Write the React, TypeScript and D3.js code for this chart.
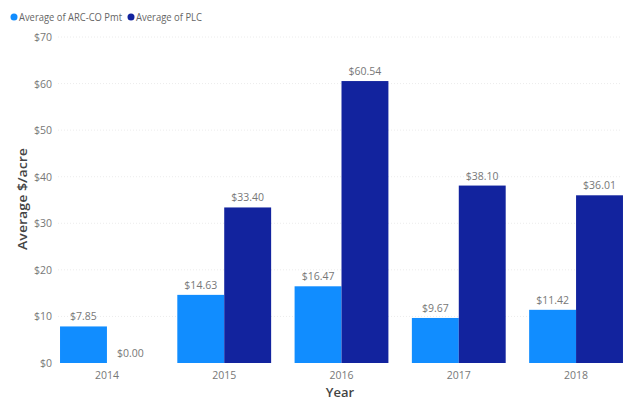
import React from "react";
import * as d3 from "d3";

const years = ["2014", "2015", "2016", "2017", "2018"];
const arcco = [7.85, 14.63, 16.47, 9.67, 11.42];
const plc = [0.0, 33.4, 60.54, 38.1, 36.01];
const seriesNames = ["Average of ARC-CO Pmt", "Average of PLC"];
const seriesColors = ["#118DFF", "#12239E"];
const yTicks = [0, 10, 20, 30, 40, 50, 60, 70];

const W = 628;
const H = 404;
const FONT = "'Open Sans', sans-serif";

export default function App() {
  const x = d3.scaleBand<string>().domain(years).range([48.3, 634.7]).paddingInner(0.2).paddingOuter(0.1);
  const x1 = d3.scaleBand<string>().domain(["a", "p"]).range([0, x.bandwidth()]);
  const y = d3.scaleLinear().domain([0, 70]).range([363, 37]);
  const fmt = (v: number) => "$" + v.toFixed(2);
  const series = [arcco, plc];

  return (
    <svg width={W} height={H} style={{ position: "absolute", left: 0, top: 0, background: "#fff" }}>
      {/* legend */}
      <g fontFamily={FONT} fontSize={10.5} fill="#666">
        <circle cx={14} cy={17} r={3.5} fill={seriesColors[0]} />
        <text x={19} y={21} textLength={103} lengthAdjust="spacingAndGlyphs">{seriesNames[0]}</text>
        <circle cx={131} cy={17} r={3.5} fill={seriesColors[1]} />
        <text x={136} y={21} textLength={66} lengthAdjust="spacingAndGlyphs">{seriesNames[1]}</text>
      </g>
      {/* grid + y ticks */}
      {yTicks.map((t) => (
        <g key={t}>
          {t > 0 && (
            <line x1={58} x2={622} y1={y(t)} y2={y(t)} stroke="#ececec" strokeWidth={1} strokeDasharray="1,2" />
          )}
          <text x={52} y={y(t) + 4} textAnchor="end" fontFamily={FONT} fontSize={10.5} fill="#777">
            {"$" + t}
          </text>
        </g>
      ))}
      {/* bars */}
      {years.map((yr, i) => (
        <g key={yr} transform={`translate(${x(yr)},0)`}>
          {series.map((s, j) => {
            const key = j === 0 ? "a" : "p";
            const bx = x1(key)!;
            const v = s[i];
            return (
              <g key={key}>
                {v > 0 && (
                  <rect x={bx} y={y(v)} width={x1.bandwidth()} height={y(0) - y(v)} fill={seriesColors[j]} />
                )}
                <text
                  x={bx + x1.bandwidth() / 2}
                  y={y(v) - 6}
                  textAnchor="middle"
                  fontFamily={FONT}
                  fontSize={10.5}
                  fill="#777"
                >
                  {fmt(v)}
                </text>
              </g>
            );
          })}
          <text
            x={x.bandwidth() / 2}
            y={379}
            textAnchor="middle"
            fontFamily={FONT}
            fontSize={10.5}
            fill="#777"
          >
            {yr}
          </text>
        </g>
      ))}
      {/* axis titles */}
      <text x={340} y={397} textAnchor="middle" fontFamily={FONT} fontSize={13} fontWeight={600} fill="#444">
        Year
      </text>
      <text
        transform={`translate(27,199) rotate(-90)`}
        textAnchor="middle"
        fontFamily={FONT}
        fontSize={13}
        fontWeight={600}
        fill="#444"
        textLength={102}
        lengthAdjust="spacingAndGlyphs"
      >
        Average $/acre
      </text>
    </svg>
  );
}
